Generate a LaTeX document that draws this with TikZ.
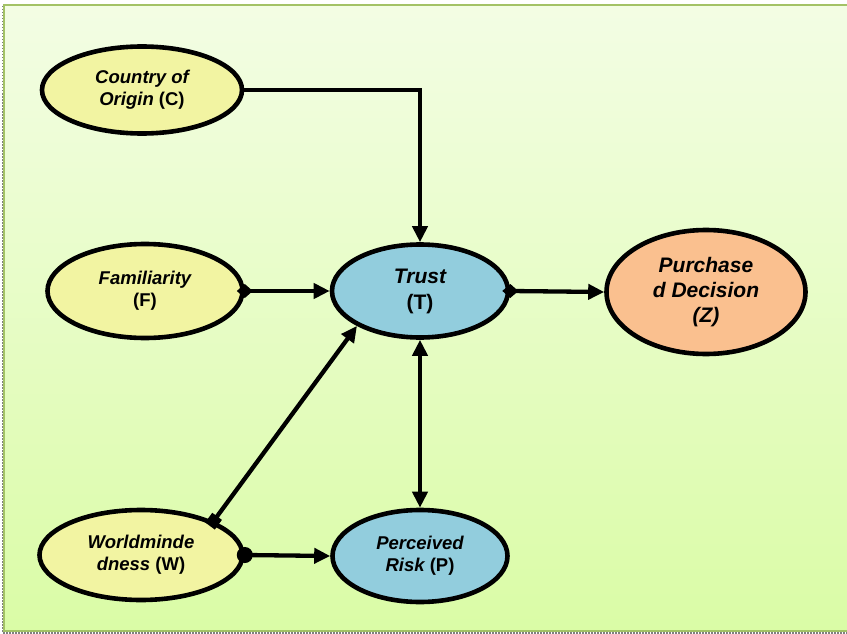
\documentclass[tikz,border=0pt]{standalone}
\usepackage{fontspec}
\setmainfont{Liberation Sans}
\usetikzlibrary{shapes.geometric,arrows.meta}
\definecolor{bgtop}{HTML}{F3FDE4}
\definecolor{bgbot}{HTML}{DAFCA6}
\definecolor{frame}{HTML}{A3C266}
\definecolor{yel}{HTML}{F2F4A2}
\definecolor{blu}{HTML}{92CDDD}
\definecolor{ora}{HTML}{FAC08F}
\tikzset{
  var/.style={ellipse, draw=black, line width=4.6pt, inner sep=0pt, align=center,
    font=\fontsize{18.5}{22}\selectfont\bfseries},
  big/.style={font=\fontsize{21}{26}\selectfont\bfseries},
  head/.tip={Triangle[length=16pt,width=15pt]},
  link/.style={line width=4.3pt, draw=black, -head},
  both/.style={line width=4.3pt, draw=black, head-head},
  dtail/.style={{Diamond[length=16pt,width=14pt]}-head, shorten <=-8pt},
  stail/.style={{Square[length=12pt,width=12pt]}-head, shorten <=-6pt},
  ctail/.style={{Circle[length=16pt]}-head, shorten <=-8pt},
}
\begin{document}
\begin{tikzpicture}[x=1pt,y=-1pt]
\useasboundingbox (0,0) rectangle (847,634);
% panel with vertical gradient and frame
\shade[top color=bgtop, bottom color=bgbot] (4,5) rectangle (847,631);
\draw[frame, line width=2.6pt] (852,5) -- (4,5) -- (4,631) -- (852,631);
\draw[gray, line width=1.2pt, dash pattern=on 1.5pt off 1.5pt] (3,633) -- (847,633);
\draw[gray, line width=1pt, dash pattern=on 1.5pt off 1.5pt] (2.5,6) -- (2.5,633);

% variables
\node[var, fill=yel, minimum width=200pt, minimum height=87pt] (C) at (142,90)
  {\itshape Country of\\\itshape Origin \upshape(C)};
\node[var, fill=yel, minimum width=195pt, minimum height=94pt] (F) at (145,291)
  {\itshape Familiarity\\(F)};
\node[var, fill=yel, minimum width=203pt, minimum height=90pt] (W) at (141,555)
  {\itshape Worldminde\\\itshape dness \upshape(W)};
\node[var, fill=blu, big, minimum width=176pt, minimum height=93pt] (T) at (420,291)
  {\itshape Trust\\(T)};
\node[var, fill=blu, minimum width=175pt, minimum height=92pt] (P) at (420,556)
  {\itshape Perceived\\\itshape Risk \upshape(P)};
\node[var, fill=ora, minimum width=199pt, minimum height=124pt, font=\fontsize{21}{25}\selectfont\bfseries\itshape] (Z) at (706,292)
  {Purchase\\d Decision\\(Z)};

% connectors
\draw[link] (C.east) -| (T.north);
\draw[link, dtail] (F.east) -- (T.west);
\draw[link, dtail] (T.east) -- (Z.west);
\draw[link, stail] (W.25) -- (T.209);
\draw[link, ctail] (W.east) -- (P.west);
\draw[both] (T.south) -- (P.north);
\end{tikzpicture}
\end{document}
